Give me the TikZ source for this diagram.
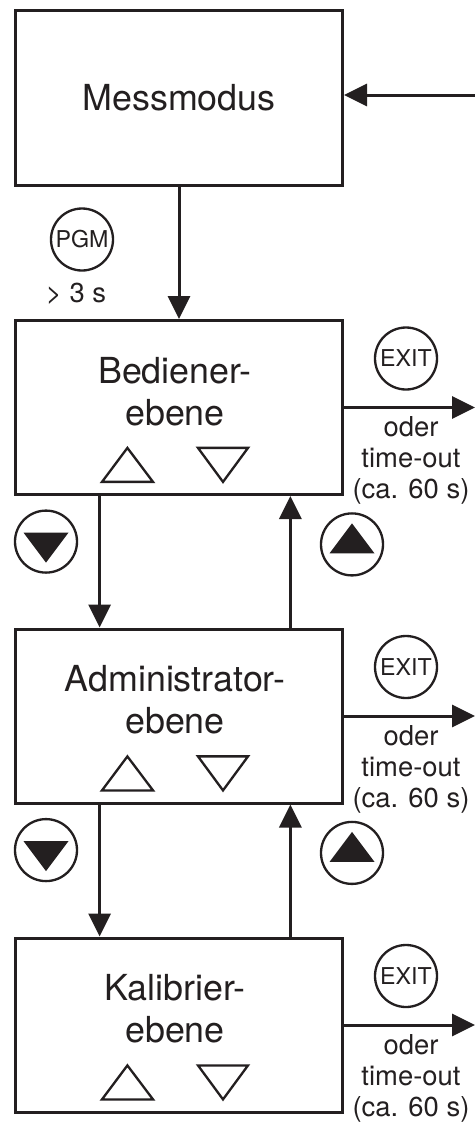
\documentclass[tikz,border=0pt]{standalone}
\usepackage{fontspec}
\setmainfont{TeX Gyre Heros}
\usetikzlibrary{arrows.meta, positioning, calc}
\definecolor{ink}{HTML}{231F20}

\begin{document}
\begin{tikzpicture}[
  stage/.style={draw=ink, line width=0.075cm, minimum width=8.175cm, minimum height=4.35cm, inner sep=0pt},
  stagetext/.style={text=ink, align=center, font=\fontsize{25.5}{30}\selectfont},
  key/.style={draw=ink, circle, line width=0.058cm, minimum size=1.55cm, inner sep=0pt, text=ink, font=\fontsize{16.5}{18}\selectfont},
  note/.style={text=ink, align=center, font=\fontsize{19.5}{22}\selectfont},
  arr/.style={draw=ink, line width=0.075cm, -{Triangle[length=0.575cm, width=0.55cm]}},
  keytri/.style={draw=ink, line width=0.058cm, line join=miter}
]
  \useasboundingbox (0,0) rectangle (11.875,-28.375);

  % levels
  \node[stage, stagetext] (mess) at (4.475,-2.45) {Messmodus};
  \node[stage] (bed) at (4.475,-10.1875) {};
  \node[stage] (adm) at (4.475,-17.9) {};
  \node[stage] (kal) at (4.475,-25.625) {};

  \node[stagetext] (bedtxt) at ([xshift=-0.1cm, yshift=0.4cm]bed.center) {Bediener-\\ebene};
  \node[stagetext] (admtxt) at ([xshift=-0.1cm, yshift=0.4cm]adm.center) {Administrator-\\ebene};
  \node[stagetext] (kaltxt) at ([xshift=-0.1cm, yshift=0.4cm]kal.center) {Kalibrier-\\ebene};

  % entry from the right, PGM key
  \coordinate (back) at (11.875,-2.375);
  \draw[arr] (back) -- (back -| mess.east);
  \draw[arr] (mess) -- (bed);
  \node[key] (pgm) at ($(mess.south west)+(1.7,-1.325)$) {PGM};
  \node[note] (hold) at ($(mess.south west)+(1.55,-2.675)$) {> 3 s};

  % keys inside the boxes and exits
  \foreach \b in {bed,adm,kal}{
    \draw[keytri] ($(\b)+(-1.925,-1.86)$) -- ($(\b)+(-0.65,-1.86)$) -- ($(\b)+(-1.29,-1.01)$) -- cycle;
    \draw[keytri] ($(\b)+(0.475,-1.01)$) -- ($(\b)+(1.725,-1.01)$) -- ($(\b)+(1.1,-1.86)$) -- cycle;
    \coordinate (\b out) at ($(\b.east)+(3.275,0)$);
    \draw[arr] (\b.east) -- (\b out);
    \node[key] (\b exit) at ($(\b.east)+(1.55,1.225)$) {EXIT};
    \node[note] (\b note) at ($(\b.east)+(1.675,-1.325)$) {oder\\time-out\\(ca. 60 s)};
  }

  % up / down between levels
  \foreach \u/\l in {bed/adm, adm/kal}{
    \draw[arr] ([xshift=2.14cm]\u.south west) -- ([xshift=2.14cm]\l.north west);
    \draw[arr] ([xshift=6.91cm]\l.north west) -- ([xshift=6.91cm]\u.south west);
    \node[key] (\u dn) at ($(\u.south west)+(0.8,-1.14)$) {};
    \node[key] (\u up) at ($(\u.south west)+(8.45,-1.21)$) {};
    \fill[ink] ($(\u dn)+(-0.5625,0.225)$) -- ($(\u dn)+(0.5625,0.225)$) -- ($(\u dn)+(0,-0.525)$) -- cycle;
    \fill[ink] ($(\u up)+(-0.5625,-0.225)$) -- ($(\u up)+(0.5625,-0.225)$) -- ($(\u up)+(0,0.525)$) -- cycle;
  }
\end{tikzpicture}
\end{document}
